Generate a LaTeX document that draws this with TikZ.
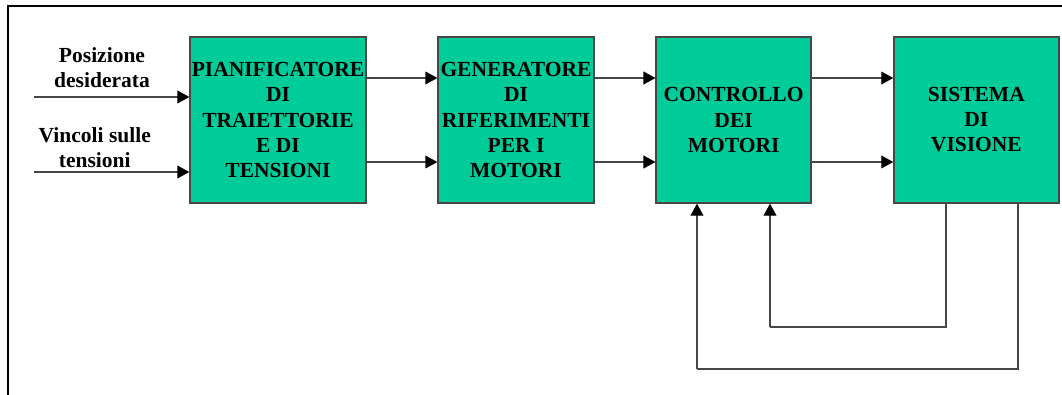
\documentclass[tikz,border=0pt]{standalone}
\usepackage{fontspec}
\setmainfont{Liberation Serif}
\usetikzlibrary{arrows.meta,positioning,calc}
\definecolor{boxgreen}{RGB}{0,204,153}
\definecolor{edgegray}{RGB}{70,70,70}

\begin{document}
\begin{tikzpicture}[
    box/.style={draw=edgegray, fill=boxgreen, line width=0.9pt, minimum height=4.15cm, align=center, inner sep=0pt, font=\fontsize{15.3}{17.8}\selectfont\bfseries, text=black},
    lbl/.style={align=center, font=\fontsize{15.3}{17.8}\selectfont\bfseries, text=black},
    arr/.style={-{Triangle[length=3mm,width=3.2mm,black]}, line width=0.9pt, draw=edgegray},
    fb/.style={line width=0.9pt, draw=edgegray},
]
\useasboundingbox (0,0) rectangle (26.55,-9.875);

% frame
\draw[line width=1.4pt] (0.2,-9.875) -- (0.2,-0.15) -- (26.55,-0.15);

% blocks
\node[box, minimum width=4.4cm] (pt) at (6.95,-3.0) {PIANIFICATORE\\DI\\TRAIETTORIE\\E DI\\TENSIONI};
\node[box, minimum width=3.9cm] (gr) at (12.9,-3.0) {GENERATORE\\DI\\RIFERIMENTI\\PER I\\MOTORI};
\node[box, minimum width=3.875cm] (cm) at (18.34,-3.0) {CONTROLLO\\DEI\\MOTORI};
\node[box, minimum width=4.125cm] (sv) at (24.41,-3.0) {SISTEMA\\DI\\VISIONE};

% inputs
\node[lbl] (pos) at (2.55,-1.68) {Posizione\\desiderata};
\node[lbl] (vin) at (2.37,-3.7) {Vincoli sulle\\tensioni};
\coordinate (inpos) at (0.85,-2.425);
\coordinate (invin) at (0.85,-4.3);
\draw[arr] (inpos) -- (pt.west |- inpos);
\draw[arr] (invin) -- (pt.west |- invin);

% forward paths
\draw[arr] (pt.east |- 0,-1.95) -- (gr.west |- 0,-1.95);
\draw[arr] (pt.east |- 0,-4.05) -- (gr.west |- 0,-4.05);
\draw[arr] (gr.east |- 0,-1.95) -- (cm.west |- 0,-1.95);
\draw[arr] (gr.east |- 0,-4.05) -- (cm.west |- 0,-4.05);
\draw[arr] (cm.east |- 0,-1.95) -- (sv.west |- 0,-1.95);
\draw[arr] (cm.east |- 0,-4.05) -- (sv.west |- 0,-4.05);

% feedback from vision
\coordinate (fb1) at (23.65,-8.175);
\coordinate (fb2) at (25.45,-9.225);
\draw[fb] (sv.south -| fb1) -- (fb1) -- (fb1 -| 19.25,0);
\draw[arr] (fb1 -| 19.25,0) -- (cm.south -| 19.25,0);
\draw[fb] (sv.south -| fb2) -- (fb2) -- (fb2 -| 17.425,0);
\draw[arr] (fb2 -| 17.425,0) -- (cm.south -| 17.425,0);
\end{tikzpicture}
\end{document}
